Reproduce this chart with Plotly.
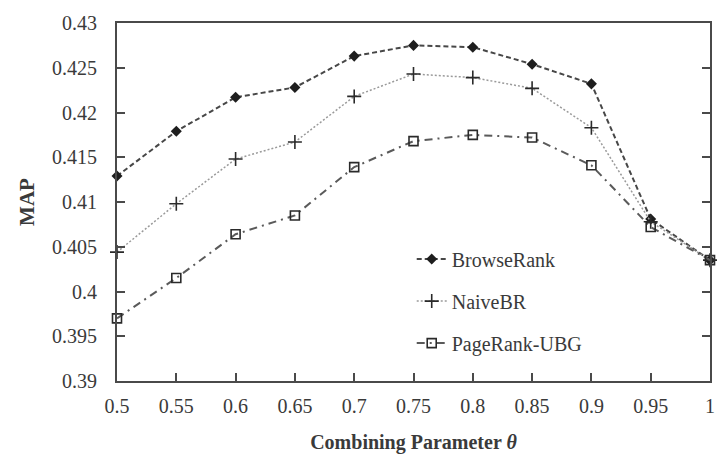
import plotly.graph_objects as go

theta = [0.5, 0.55, 0.6, 0.65, 0.7, 0.75, 0.8, 0.85, 0.9, 0.95, 1.0]
browserank = [0.4129, 0.4179, 0.4217, 0.4228, 0.4263, 0.4275, 0.4273, 0.4254, 0.4232, 0.4081, 0.4035]
naivebr = [0.4044, 0.4098, 0.4148, 0.4167, 0.4218, 0.4243, 0.4239, 0.4227, 0.4183, 0.4078, 0.4035]
pagerank_ubg = [0.3970, 0.4015, 0.4064, 0.4085, 0.4139, 0.4168, 0.4175, 0.4172, 0.4141, 0.4072, 0.4035]

x_ticks = [0.5, 0.55, 0.6, 0.65, 0.7, 0.75, 0.8, 0.85, 0.9, 0.95, 1.0]
x_labels = ["0.5", "0.55", "0.6", "0.65", "0.7", "0.75", "0.8", "0.85", "0.9", "0.95", "1"]
y_ticks = [0.39, 0.395, 0.4, 0.405, 0.41, 0.415, 0.42, 0.425, 0.43]
y_labels = ["0.39", "0.395", "0.4", "0.405", "0.41", "0.415", "0.42", "0.425", "0.43"]

FONT = "Liberation Serif"
TXT = "#3a3a3a"
AX = "#4a4a4a"

fig = go.Figure()
fig.add_trace(go.Scatter(
    x=theta, y=browserank, name="BrowseRank", mode="lines+markers",
    legendgroup="a",
    line=dict(color="#474747", width=2, dash="5px,3px"),
    marker=dict(symbol="diamond", size=8.5, color="#1e1e1e"),
    cliponaxis=False))
fig.add_trace(go.Scatter(
    x=theta, y=naivebr, name="NaiveBR", mode="lines+markers",
    legendgroup="b",
    line=dict(color="#9a9a9a", width=1.5, dash="2px,2px"),
    marker=dict(symbol="cross-thin", size=10, color="#2a2a2a",
                line=dict(color="#2a2a2a", width=1.6)),
    cliponaxis=False))
fig.add_trace(go.Scatter(
    x=theta, y=pagerank_ubg, name="PageRank-UBG", mode="lines+markers",
    legendgroup="c",
    line=dict(color="#5a5a5a", width=2, dash="8px,5px,2px,5px"),
    marker=dict(symbol="square-open", size=9, color="#2a2a2a",
                line=dict(color="#2a2a2a", width=1.6)),
    cliponaxis=False))

fig.update_layout(
    width=717, height=454,
    margin=dict(l=117, r=7, t=23, b=73),
    paper_bgcolor="white", plot_bgcolor="white",
    font=dict(family=FONT, size=20, color=TXT),
    showlegend=True,
    legend=dict(x=0.497, y=0.395, xanchor="left", yanchor="top",
                bgcolor="rgba(0,0,0,0)", tracegroupgap=13,
                font=dict(family=FONT, size=20, color=TXT)),
    xaxis=dict(range=[0.5, 1.0], tickvals=x_ticks, ticktext=x_labels,
               showline=True, linecolor=AX, linewidth=2, mirror=True,
               ticks="inside", ticklen=8, tickwidth=1.5, tickcolor=AX,
               showgrid=False, zeroline=False, ticklabelstandoff=6,
               ticklabeloverflow="allow", automargin=False,
               title=dict(text="<b>Combining Parameter <i>θ</i></b>",
                          font=dict(family=FONT, size=20, color=TXT), standoff=28)),
    yaxis=dict(range=[0.39, 0.43], tickvals=y_ticks, ticktext=y_labels,
               showline=True, linecolor=AX, linewidth=2, mirror="ticks",
               ticks="inside", ticklen=8, tickwidth=1.5, tickcolor=AX,
               showgrid=False, zeroline=False, ticklabelstandoff=14,
               automargin=False,
               title=dict(text="<b>MAP</b>",
                          font=dict(family=FONT, size=21, color=TXT), standoff=12)),
)

fig.write_html("out.html")
